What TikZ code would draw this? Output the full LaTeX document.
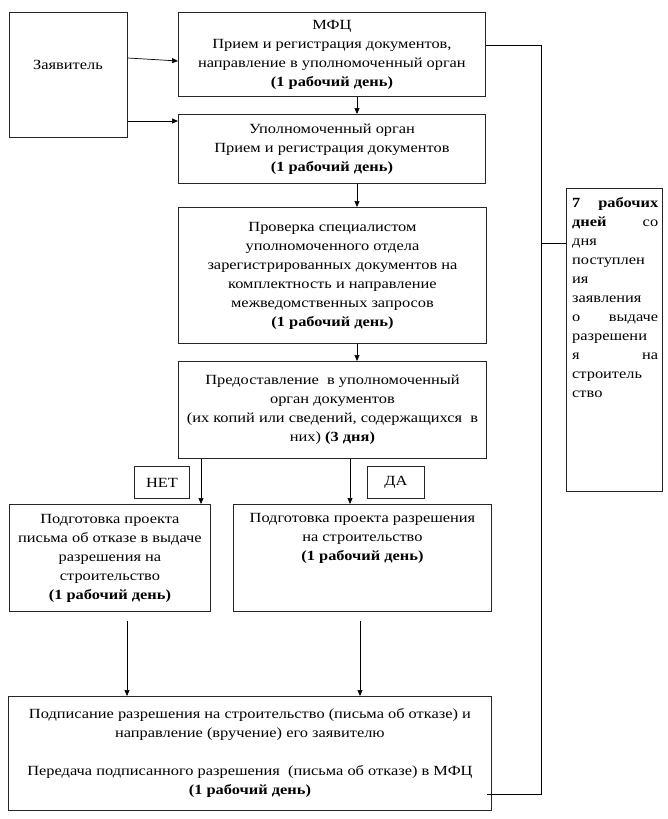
\documentclass[tikz,border=0pt]{standalone}
\usepackage{fontspec}
\setmainfont{Liberation Serif}[FakeStretch=1.17]
\usetikzlibrary{arrows.meta,calc}
\begin{document}
\begin{tikzpicture}[x=1pt,y=-1pt,
  font=\fontsize{14}{19}\selectfont,
  box/.style={draw=black!85,line width=0.9pt,anchor=north west,align=center,inner sep=0pt},
  conn/.style={line width=0.7pt},
  arr/.style={conn,-{Triangle[length=6pt,width=5pt]}}]
\useasboundingbox (0,0) rectangle (667,819);
\node[box,minimum width=118,minimum height=125] (zay) at (9,12) {};
\node (zayt) at (68,65) {Заявитель};
\node[box,minimum width=307,minimum height=84] (mfc) at (178,12)
  {МФЦ\\Прием и регистрация документов,\\направление в уполномоченный орган\\\textbf{(1 рабочий день)}};
\node[box,minimum width=307,minimum height=69] (up) at (178,114)
  {Уполномоченный орган\\Прием и регистрация документов\\\textbf{(1 рабочий день)}};
\node[box,minimum width=308,minimum height=136] (pr) at (178,207)
  {Проверка специалистом\\уполномоченного отдела\\зарегистрированных документов на\\комплектность и направление\\межведомственных запросов\\\textbf{(1 рабочий день)}};
\node[box,minimum width=308,minimum height=97] (pd) at (178,361)
  {Предоставление~ в уполномоченный\\орган документов\\(их копий или сведений, содержащихся~ в\\них) \textbf{(3 дня)}};
\node[box,minimum width=55,minimum height=32] (net) at (134,466) {НЕТ};
\node[box,minimum width=57,minimum height=32] (da) at (367,466) {ДА};
\node[box,minimum width=201,minimum height=107] (no) at (9,504)
  {Подготовка проекта\\письма об отказе в выдаче\\разрешения на\\строительство\\\textbf{(1 рабочий день)}};
\node[box,minimum width=258,minimum height=107] (yes) at (233,504) {};
\node[anchor=north,align=center,inner sep=0pt] (yest) at ([yshift=-9]yes.north)
  {Подготовка проекта разрешения\\на строительство\\\textbf{(1 рабочий день)}};
\node[box,minimum width=483,minimum height=114] (fin) at (8,696)
  {Подписание разрешения на строительство (письма об отказе) и\\направление (вручение) его заявителю\\[19pt]Передача подписанного разрешения~ (письма об отказе) в МФЦ\\\textbf{(1 рабочий день)}};
\node[box,minimum width=96,minimum height=303] (days) at (566,188) {};
\node[anchor=north west,inner sep=0pt,text width=86,align=left] (dayst) at ([xshift=6,yshift=-9]days.north west)
  {\textbf{7\hfill рабочих}\\\textbf{дней}\hfill со\\дня\\поступлен\\ия\\заявления\\о\hfill выдаче\\разрешени\\я\hfill на\\строитель\\ство};
% helper coordinates
\coordinate (xa) at (357,0);
\coordinate (xno) at (201,0);
\coordinate (xyes) at (350,0);
\coordinate (sno) at (127,621);
\coordinate (syes) at (360,621);
\coordinate (b1) at (541,45);
\coordinate (b2) at (541,794);
\coordinate (b3) at (541,243);
% connectors
\draw[arr] (zay.east |- 0,58) -- (mfc.west |- 0,61);
\draw[arr] (zay.east |- 0,121) -- (up.west |- 0,121);
\draw[arr] (mfc.south -| xa) -- (up.north -| xa);
\draw[arr] (up.south -| xa) -- (pr.north -| xa);
\draw[arr] (pr.south -| xa) -- (pd.north -| xa);
\draw[arr] (pd.south -| xno) -- (no.north -| xno);
\draw[arr] (pd.south -| xyes) -- (yes.north -| xyes);
\draw[arr] (sno) -- (fin.north -| sno);
\draw[arr] (syes) -- (fin.north -| syes);
\draw[conn] (mfc.east |- b1) -- (b1) -- (b2) -- ([xshift=-5]fin.east |- b2);
\draw[conn] (b3) -- (days.west |- b3);
\end{tikzpicture}
\end{document}
